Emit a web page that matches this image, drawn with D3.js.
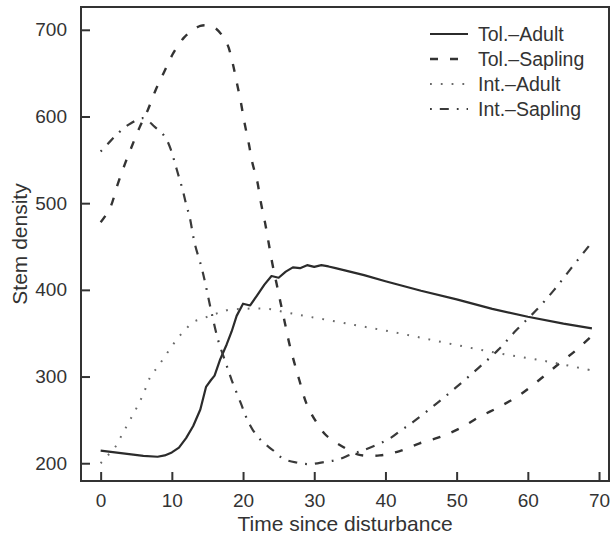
<!DOCTYPE html>
<html>
<head>
<meta charset="utf-8">
<script src="https://cdn.jsdelivr.net/npm/d3@7"></script>
<style>
  html, body { margin: 0; padding: 0; background: #ffffff; }
  svg { display: block; }
  text { font-family: "Liberation Sans", Arial, Helvetica, sans-serif; fill: #333; }
</style>
</head>
<body>
<svg id="chart" width="611" height="541"></svg>
<script>
// ---- data ----
const xTicks = [0, 10, 20, 30, 40, 50, 60, 70];
const yTicks = [200, 300, 400, 500, 600, 700];
const seriesNames = ["Tol.\u2013Adult", "Tol.\u2013Sapling", "Int.\u2013Adult", "Int.\u2013Sapling"];

const tolAdultX = [0, 2, 4, 6, 8, 9, 10, 11, 12, 13, 14, 14.8, 15.5, 16, 16.8, 17.7, 18.4, 19.1, 20, 21, 22, 23, 24, 25, 26, 27, 28, 29, 30, 31, 32, 33, 35, 37, 40, 45, 50, 55, 60, 65, 69];
const tolAdultY = [214.5, 212.5, 210.5, 208.5, 207.5, 209, 212.5, 218, 229, 243, 262, 288, 296, 301, 320, 337, 352, 370, 384, 382, 394, 406, 416, 414, 421, 426, 425, 428.5, 426.5, 428.5, 427, 425, 421, 417, 410, 399, 389, 378, 369, 361, 355.5];

const tolSapX = [0, 1.3, 2.4, 3.4, 4.3, 5.5, 6.6, 7.7, 8.9, 10.2, 11.7, 13, 14, 15, 16.1, 17.7, 18.5, 19.1, 19.7, 20.2, 20.8, 21.3, 22, 22.5, 23.1, 23.6, 24.1, 24.7, 25.3, 25.9, 26.5, 27.2, 27.9, 28.9, 30.1, 31.7, 34, 36.2, 39.2, 42, 44.8, 47.6, 50.4, 53.2, 56, 58.8, 61.6, 64.4, 66.8, 69];
const tolSapY = [478, 494, 522, 545, 564, 588, 607, 630, 651, 673, 691, 700, 704.5, 705, 702, 685, 663, 640, 616, 593, 569, 547, 525, 501, 477, 454, 431, 407.5, 384, 361, 338, 316, 296, 269, 250, 232, 219, 210, 209, 214, 223, 230, 240, 253.5, 265, 278.5, 296, 315, 330.5, 347];

const intAdultX = [0, 1, 2, 3, 4, 5, 6, 7, 8, 9, 10, 11, 12, 13, 14, 15, 16, 17, 18, 20, 22, 24, 26, 28, 35, 42, 49, 56, 63, 69];
const intAdultY = [200, 209, 218, 233, 248, 263, 280, 300, 311, 323, 335, 346, 355, 363, 366, 369, 372, 374.5, 377, 378, 378.6, 377.5, 374, 371, 360.5, 349.8, 338, 326.7, 317, 307];

const intSapX = [0, 1.3, 2.7, 4.2, 6, 7.6, 9, 9.9, 10.4, 11, 11.5, 12, 12.5, 13.2, 14.2, 14.7, 15.1, 15.6, 16.5, 17.6, 18.4, 19.7, 20.5, 21.4, 22.7, 24.2, 25.6, 27.5, 29.4, 31.5, 33.4, 35.2, 36.9, 40.6, 42.2, 43.9, 46.9, 50, 53, 55.8, 58.4, 61.2, 63.7, 66.1, 69];
const intSapY = [559.5, 571, 582.6, 592, 598, 588, 577, 561, 547, 530, 516, 499, 484, 454, 425, 407.5, 392, 373, 342, 315, 296, 269, 252, 238, 225, 215, 205.4, 200.8, 199, 201.5, 204.4, 210.4, 215, 228.5, 238, 247.7, 267, 288, 309.4, 330.5, 353.6, 376.7, 400, 425, 455];

// ---- layout ----
const L = 81, R = 609, T = 7, B = 481;
const svg = d3.select("#chart");
const x = d3.scaleLinear().domain([-2.76, 71.4]).range([L, R]);
const y = d3.scaleLinear().domain([179.5, 726.3]).range([B, T]);

const styles = [
  { dash: null,        color: "#2b2b2b", width: 2.2, curve: d3.curveLinear },
  { dash: "8,12",      color: "#333333", width: 2.4, curve: d3.curveCatmullRom },
  { dash: "1.8,9",     color: "#6a6a6a", width: 2.0, curve: d3.curveCatmullRom },
  { dash: "1.8,8,9,8", color: "#3a3a3a", width: 2.2, curve: d3.curveCatmullRom }
];

const series = [
  { xs: tolAdultX, ys: tolAdultY },
  { xs: tolSapX, ys: tolSapY },
  { xs: intAdultX, ys: intAdultY },
  { xs: intSapX, ys: intSapY }
];

// axes (ticks inward)
const xAxis = d3.axisBottom(x).tickValues(xTicks).tickSizeInner(-9).tickSizeOuter(0).tickPadding(13);
const yAxis = d3.axisLeft(y).tickValues(yTicks).tickSizeInner(-9).tickSizeOuter(0).tickPadding(14);

const gx = svg.append("g").attr("transform", `translate(0,${B})`).call(xAxis);
const gy = svg.append("g").attr("transform", `translate(${L},0)`).call(yAxis);
[gx, gy].forEach(g => {
  g.select(".domain").remove();
  g.selectAll(".tick line").attr("stroke", "#333").attr("stroke-width", 2);
  g.selectAll(".tick text").attr("fill", "#333").style("font-size", "19px")
    .style("font-family", "'Liberation Sans', Arial, sans-serif");
});

// lines
series.forEach((s, i) => {
  const pts = s.xs.map((v, k) => [v, s.ys[k]]);
  const line = d3.line().x(d => x(d[0])).y(d => y(d[1])).curve(styles[i].curve);
  svg.append("path")
    .attr("d", line(pts))
    .attr("fill", "none")
    .attr("stroke", styles[i].color)
    .attr("stroke-width", styles[i].width)
    .attr("stroke-linejoin", "round")
    .attr("stroke-dasharray", styles[i].dash);
});

// frame
svg.append("rect").attr("x", L).attr("y", T).attr("width", R - L).attr("height", B - T)
  .attr("fill", "none").attr("stroke", "#333").attr("stroke-width", 2);

// legend
const lg = svg.append("g");
seriesNames.forEach((name, i) => {
  const yy = 34 + i * 25;
  lg.append("line").attr("x1", 430).attr("x2", 468).attr("y1", yy).attr("y2", yy)
    .attr("stroke", styles[i].color).attr("stroke-width", styles[i].width)
    .attr("stroke-dasharray", styles[i].dash);
  lg.append("text").attr("x", 478).attr("y", yy).attr("dy", "0.36em")
    .style("font-size", "19.5px").text(name);
});

// axis titles
svg.append("text").attr("x", 345).attr("y", 531).attr("text-anchor", "middle")
  .style("font-size", "21px").text("Time since disturbance");
svg.append("text").attr("transform", `translate(27,${(T + B) / 2})rotate(-90)`)
  .attr("text-anchor", "middle").style("font-size", "21px").text("Stem density");
</script>
</body>
</html>
